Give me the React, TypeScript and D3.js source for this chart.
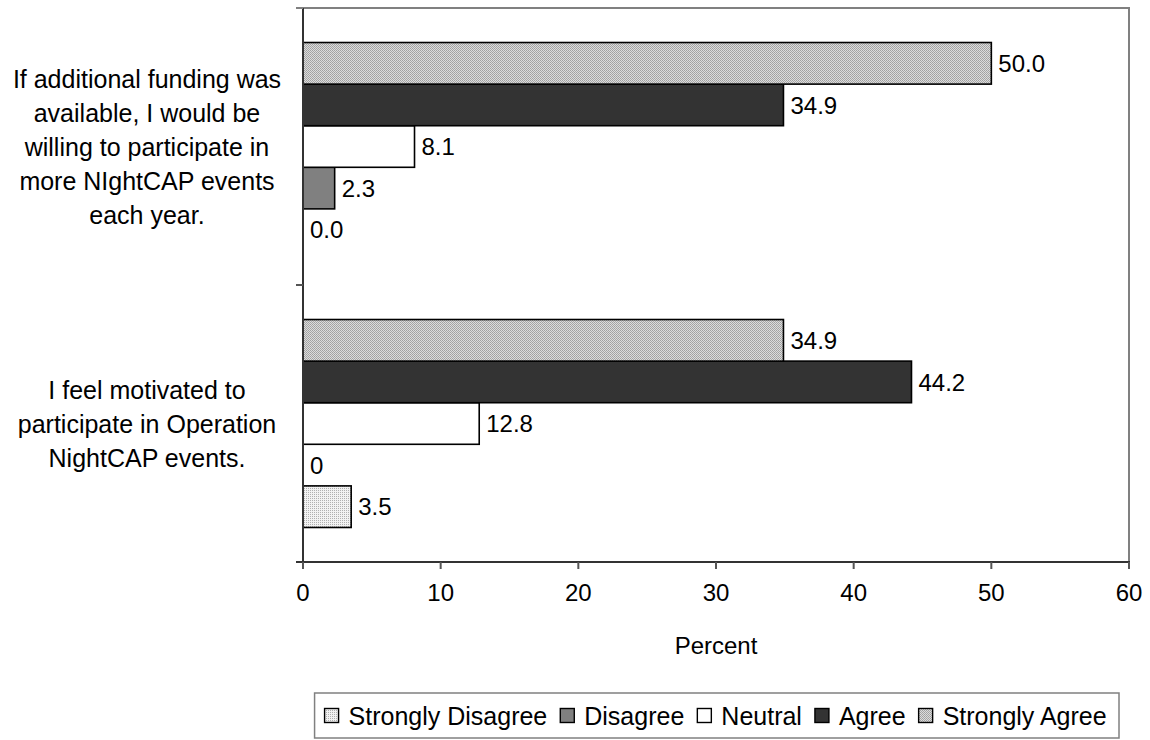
import React from "react";
import * as d3 from "d3";

// ---------- data ----------
const categories: string[] = ["funding", "motivated"];
const categoryLines: string[][] = [
  ["If additional funding was", "available, I would be", "willing to participate in", "more NIghtCAP events", "each year."],
  ["I feel motivated to", "participate in Operation", "NightCAP events."],
];
const seriesNames: string[] = ["Strongly Disagree", "Disagree", "Neutral", "Agree", "Strongly Agree"];
const stronglyDisagree: number[] = [0.0, 3.5];
const disagree: number[] = [2.3, 0];
const neutral: number[] = [8.1, 12.8];
const agree: number[] = [34.9, 44.2];
const stronglyAgree: number[] = [50.0, 34.9];
const stronglyDisagreeLabels: string[] = ["0.0", "3.5"];
const disagreeLabels: string[] = ["2.3", "0"];
const neutralLabels: string[] = ["8.1", "12.8"];
const agreeLabels: string[] = ["34.9", "44.2"];
const stronglyAgreeLabels: string[] = ["50.0", "34.9"];
const xTicks: number[] = [0, 10, 20, 30, 40, 50, 60];
const xTitle = "Percent";

const seriesValues = [stronglyDisagree, disagree, neutral, agree, stronglyAgree];
const seriesLabels = [stronglyDisagreeLabels, disagreeLabels, neutralLabels, agreeLabels, stronglyAgreeLabels];
const seriesFill = ["url(#patSD)", "#808080", "#ffffff", "#333333", "url(#patSA)"];

// ---------- layout ----------
const W = 1150, H = 740;
const left = 303, right = 1129, top = 8, bottom = 562;
const FONT = "'Liberation Sans', Arial, sans-serif";
const FS = 24;
const FS_CAT = 25;
const FS_LEG = 25;

function measure(text: string, size: number) {
  if (typeof document === "undefined") return text.length * size * 0.5;
  const c = document.createElement("canvas").getContext("2d")!;
  c.font = `${size}px "Liberation Sans", Arial, sans-serif`;
  return c.measureText(text).width;
}

export default function App() {
  const x = d3.scaleLinear().domain([0, 60]).range([left, right]);
  const yCat = d3.scaleBand<string>().domain(categories).range([top, bottom]).paddingInner(0).paddingOuter(0);
  // top-to-bottom order: Strongly Agree ... Strongly Disagree
  const order = seriesNames.slice().reverse();
  const yInner = d3.scaleBand<string>().domain(order).range([0, yCat.bandwidth()]).paddingInner(0).paddingOuter(0.83);

  const lineGap = 34;

  // legend layout
  const sq = 14, sqGap = 10, itemGap = 13;
  const widths = seriesNames.map((s) => measure(s, FS_LEG));
  const itemW = widths.map((w) => sq + sqGap + w);
  const totalW = d3.sum(itemW) + itemGap * (seriesNames.length - 1);
  const legPadR = 11, legPadL = 10;
  const legRight = 1119;
  const legX0 = legRight - legPadR - totalW;
  const legTop = 693, legBottom = 738;
  const legCy = (legTop + legBottom) / 2;
  let cursor = legX0;
  const legendItems = seriesNames.map((s, i) => {
    const item = { name: s, x: cursor, fill: seriesFill[i] };
    cursor += itemW[i] + itemGap;
    return item;
  });

  return (
    <svg width={W} height={H} style={{ position: "absolute", left: 0, top: 0, background: "#fff" }} fontFamily={FONT}>
      <defs>
        <pattern id="patSA" width={2} height={2} patternUnits="userSpaceOnUse">
          <rect width={2} height={2} fill="#dcdcdc" />
          <rect width={1} height={1} fill="#a0a0a0" />
          <rect x={1} y={1} width={1} height={1} fill="#a8a8a8" />
        </pattern>
        <pattern id="patSD" width={2} height={2} patternUnits="userSpaceOnUse">
          <rect width={2} height={2} fill="#f2f2f2" />
          <rect width={1} height={1} fill="#b0b0b0" />
        </pattern>
      </defs>
      <rect width={W} height={H} fill="#fff" />

      {/* plot border: top & right gray */}
      <line x1={296} x2={right + 1} y1={top} y2={top} stroke="#808080" strokeWidth={2} />
      <line x1={right} x2={right} y1={top} y2={bottom} stroke="#808080" strokeWidth={2} />

      {/* bars */}
      {categories.map((c, ci) =>
        seriesNames.map((s, si) => {
          const v = seriesValues[si][ci];
          const y0 = (yCat(c) as number) + (yInner(s) as number);
          const h = yInner.bandwidth();
          return (
            <g key={c + s}>
              {v > 0 && (
                <rect x={x(0)} y={y0} width={x(v) - x(0)} height={h} fill={seriesFill[si]} stroke="#000" strokeWidth={1.6} />
              )}
              <text x={x(v) + 7} y={y0 + h / 2} dy="0.36em" fontSize={FS} fill="#000">
                {seriesLabels[si][ci]}
              </text>
            </g>
          );
        })
      )}

      {/* left axis */}
      <line x1={left} x2={left} y1={top} y2={bottom} stroke="#333" strokeWidth={2} />
      {[...categories.map((c) => yCat(c) as number), bottom].map((yy, i) => (
        <line key={"lt" + i} x1={296} x2={left} y1={yy} y2={yy} stroke={i === 0 ? "#808080" : "#555"} strokeWidth={2} />
      ))}
      {/* bottom axis */}
      <line x1={296} x2={right + 1} y1={bottom} y2={bottom} stroke="#333" strokeWidth={2} />
      {xTicks.map((t) => (
        <g key={"xt" + t}>
          <line x1={x(t)} x2={x(t)} y1={bottom} y2={bottom + 7} stroke="#555" strokeWidth={2} />
          <text x={x(t)} y={bottom + 30} dy="0.36em" textAnchor="middle" fontSize={FS} fill="#000">
            {t}
          </text>
        </g>
      ))}
      <text x={(left + right) / 2} y={645} dy="0.36em" textAnchor="middle" fontSize={FS} fill="#000">
        {xTitle}
      </text>

      {/* category labels */}
      {categories.map((c, ci) => {
        const lines = categoryLines[ci];
        const cy = (yCat(c) as number) + yCat.bandwidth() / 2;
        return lines.map((ln, li) => (
          <text key={c + li} x={147} y={cy + (li - (lines.length - 1) / 2) * lineGap} dy="0.36em" textAnchor="middle" fontSize={FS_CAT} fill="#000">
            {ln}
          </text>
        ));
      })}

      {/* legend */}
      <rect x={legX0 - legPadL} y={legTop} width={legRight - (legX0 - legPadL)} height={legBottom - legTop} fill="#fff" stroke="#808080" strokeWidth={1.5} />
      {legendItems.map((it) => (
        <g key={it.name}>
          <rect x={it.x} y={legCy - sq / 2} width={sq} height={sq} fill={it.fill} stroke="#000" strokeWidth={1.4} />
          <text x={it.x + sq + sqGap} y={legCy} dy="0.36em" fontSize={FS_LEG} fill="#000">
            {it.name}
          </text>
        </g>
      ))}
    </svg>
  );
}
